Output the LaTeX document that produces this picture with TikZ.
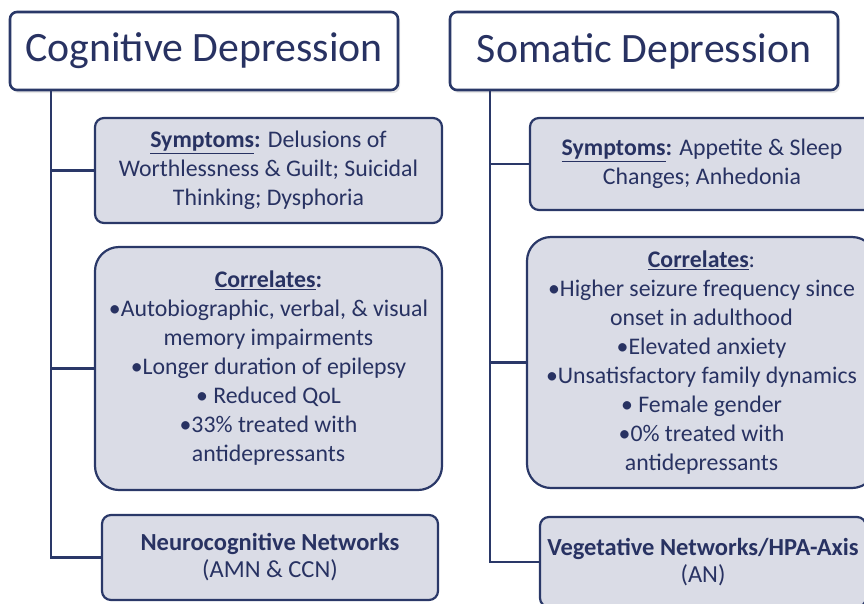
\documentclass[tikz,border=0pt]{standalone}
\usepackage{fontspec}
\setmainfont{Carlito}
\usetikzlibrary{shadows}

\definecolor{navyline}{RGB}{42,56,104}
\definecolor{navytext}{RGB}{40,50,98}
\definecolor{boxfill}{RGB}{218,220,230}

\begin{document}
\begin{tikzpicture}[x=1pt,y=-1pt,
  titlebox/.style={draw=navyline, line width=2.6pt, fill=white, rounded corners=7pt,
    text=navytext, font=\fontsize{41.8}{48}\selectfont, inner sep=0pt,
    drop shadow={opacity=0.18, shadow xshift=2pt, shadow yshift=-3pt}},
  infobox/.style={draw=navyline, line width=2.2pt, fill=boxfill, rounded corners=9pt,
    text=navytext, font=\fontsize{23.8}{29}\selectfont, align=center, inner sep=0pt},
  corbox/.style={infobox, rounded corners=24pt},
  netbox/.style={infobox, font=\fontsize{24.5}{27}\selectfont},
  trunk/.style={draw=navyline, line width=2.6pt}]

\useasboundingbox (0,0) rectangle (864,603);
\clip (0,0) rectangle (864,603);

% Cognitive depression (left column)
\node[titlebox, minimum width=388pt, minimum height=78pt] (cogtitle) at (204,51) {Cognitive Depression};
\coordinate (cogroot) at (51,90);
\node[infobox, minimum width=347pt, minimum height=105pt] (cogsym) at (268.5,170.5)
  {\textbf{\underline{Symptoms}:} Delusions of\\ Worthlessness \& Guilt; Suicidal\\ Thinking; Dysphoria};
\node[corbox, minimum width=347pt, minimum height=243pt] (cogcor) at (268.5,368.5)
  {\textbf{\underline{Correlates}:}\\ •Autobiographic, verbal, \& visual\\ memory impairments\\
   •Longer duration of epilepsy\\ • Reduced QoL\\ •33\% treated with\\ antidepressants};
\node[netbox, minimum width=336pt, minimum height=85pt] (cognet) at (270,557.5)
  {\textbf{Neurocognitive Networks}\\ (AMN \& CCN)};

% Somatic depression (right column)
\node[titlebox, minimum width=388pt, minimum height=78pt] (somtitle) at (644,51) {Somatic Depression};
\coordinate (somroot) at (490,90);
\node[infobox, minimum width=344pt, minimum height=92pt] (somsym) at (702,164)
  {\textbf{\underline{Symptoms}:} Appetite \& Sleep\\ Changes; Anhedonia};
\node[corbox, minimum width=349pt, minimum height=251pt] (somcor) at (701.5,362.5)
  {\underline{\textbf{Correlates}}:\\ •Higher seizure frequency since\\ onset in adulthood\\
   •Elevated anxiety\\ •Unsatisfactory family dynamics\\ • Female gender\\ •0\% treated with\\ antidepressants};
\node[netbox, minimum width=326pt, minimum height=90pt] (somnet) at (703,562)
  {\textbf{Vegetative Networks/HPA-Axis}\\ (AN)};

% connectors
\draw[trunk] (cogroot) |- (cogsym.west);
\draw[trunk] (cogroot) |- (cogcor.west);
\draw[trunk] (cogroot) |- (cognet.west);
\draw[trunk] (somroot) |- (somsym.west);
\draw[trunk] (somroot) |- (somcor.west);
\draw[trunk] (somroot) |- (somnet.west);

\end{tikzpicture}
\end{document}
